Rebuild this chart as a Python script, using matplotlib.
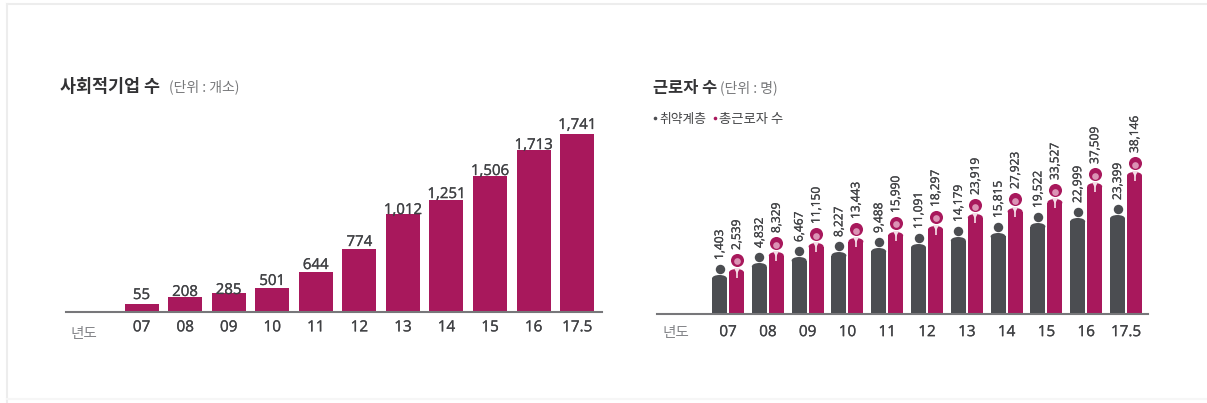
import matplotlib
matplotlib.use("Agg")
import matplotlib.pyplot as plt
import matplotlib.patheffects as pe
from matplotlib.lines import Line2D
from matplotlib.patches import Ellipse

W, H = 1207, 403
KR = "Noto Sans CJK KR"
NUM = "Open Sans"
MAGENTA = "#A8185C"
DARK = "#4B4D51"
TEXT = "#404144"
AXIS = "#77777A"
HEAVY = [pe.withStroke(linewidth=0.2, foreground=TEXT)]

years = ["07", "08", "09", "10", "11", "12", "13", "14", "15", "16", "17.5"]

# Printed labels
enterprise_labels = ["55", "208", "285", "501", "644", "774", "1,012", "1,251", "1,506", "1,713", "1,741"]
vulnerable_labels = ["1,403", "4,832", "6,467", "8,227", "9,488", "11,091", "14,179", "15,815", "19,522", "22,999", "23,399"]
total_labels = ["2,539", "8,329", "11,150", "13,443", "15,990", "18,297", "23,919", "27,923", "33,527", "37,509", "38,146"]

# Bar heights as drawn in the source graphic (it is not to scale with its labels)
enterprise_heights = [78, 147, 186, 235, 391, 616, 958, 1095, 1330, 1584, 1741]
vulnerable_heights = [10480, 13700, 15310, 16650, 17730, 18800, 20680, 21760, 24440, 25790, 26590]
total_heights = [12090, 16650, 19070, 20410, 22030, 23640, 26860, 28470, 30890, 35190, 38146]

fig = plt.figure(figsize=(W / 100, H / 100), dpi=100, facecolor="white")


def fx(x):
    return x / W


def fy(y):
    return 1 - y / H


def make_axes(left, right, top, bottom):
    return fig.add_axes([fx(left), fy(bottom), (right - left) / W, (bottom - top) / H])


def style_axes(ax, x_labels, pad):
    for s in ("top", "left", "right"):
        ax.spines[s].set_visible(False)
    ax.spines["bottom"].set_color(AXIS)
    ax.spines["bottom"].set_linewidth(1.5)
    ax.set_yticks([])
    ax.set_xticks(range(len(x_labels)))
    ax.set_xticklabels(x_labels, family=NUM, fontsize=11, color=TEXT, path_effects=HEAVY)
    ax.tick_params(axis="x", length=0, pad=pad)
    ax.patch.set_alpha(0)


# ---------- left chart ----------
ax1 = make_axes(66, 602, 100, 312)
px1 = 1741 / 178  # data units per pixel
ax1.set_xlim(-1.734, 10.57)
ax1.set_ylim(0, 212 * px1)
style_axes(ax1, years, 6)
ax1.bar(range(len(years)), enterprise_heights, width=0.78, color=MAGENTA)
label_gap_px = [5, 1, -1, 3, 3, 3, 0, 2, 1, 1, 5]
for i, (h, lab) in enumerate(zip(enterprise_heights, enterprise_labels)):
    ax1.text(i, h + label_gap_px[i] * px1, lab, ha="center", va="baseline",
             family=NUM, fontsize=10.8, color=TEXT, path_effects=HEAVY)

# ---------- right chart ----------
ax2 = make_axes(657, 1148, 100, 314)
px2 = 38146 / 142
step = 39.8
ax2.set_xlim((657 - 728) / step, (1148 - 728) / step)
ax2.set_ylim(0, 214 * px2)
style_axes(ax2, years, 8)

off = 8.5 / step
bw = 15 / step
r = 3.5


def person_body(x, h, color):
    ax2.bar(x, h - r * px2, width=bw, color=color, linewidth=0)
    ax2.add_patch(Ellipse((x, h - r * px2), bw, 2 * r * px2, color=color, linewidth=0))


for i, (hd, hm, ld, lm) in enumerate(zip(vulnerable_heights, total_heights, vulnerable_labels, total_labels)):
    xd, xm = i - off, i + off
    # dark figure
    person_body(xd, hd, DARK)
    ax2.plot(xd, hd + 6 * px2, "o", ms=6.8, color=DARK, mew=0)
    ax2.text(xd, hd + 15 * px2, ld, rotation=90, ha="center", va="bottom",
             family=NUM, fontsize=8.6, color=TEXT, path_effects=HEAVY)
    # magenta figure
    person_body(xm, hm, MAGENTA)
    ax2.plot(xm, hm + 9 * px2, "o", ms=9.4, color=MAGENTA, mew=0)
    ax2.plot(xm, hm + 7.5 * px2, "o", ms=4.8, color="#DB93B5", mew=0)
    ax2.vlines(xm, hm - 9 * px2, hm - 1 * px2, color="#EFCFDD", lw=1.3)
    ax2.plot(xm, hm - 2 * px2, "v", ms=4.2, color="#F4DDE7", mew=0)
    ax2.text(xm, hm + 19 * px2, lm, rotation=90, ha="center", va="bottom",
             family=NUM, fontsize=8.6, color=TEXT, path_effects=HEAVY)

# ---------- titles, legend, axis captions ----------
fig.text(fx(60), fy(87), "사회적기업 수", family=KR, fontsize=12.5, weight="bold",
         color="#333335", ha="left", va="center")
fig.text(fx(169), fy(87), "(단위 : 개소)", family=KR, fontsize=10, color="#77787A",
         ha="left", va="center")
fig.text(fx(653), fy(88), "근로자 수", family=KR, fontsize=11.8, weight="bold",
         color="#333335", ha="left", va="center")
fig.text(fx(720), fy(88), "(단위 : 명)", family=KR, fontsize=10, color="#77787A",
         ha="left", va="center")

fig.add_artist(Line2D([fx(655)], [fy(118)], marker="o", ms=2.6, color=DARK, mew=0))
fig.text(fx(659), fy(119), "취약계층", family=KR, fontsize=9.2, color="#454648",
         ha="left", va="center")
fig.add_artist(Line2D([fx(715)], [fy(118)], marker="o", ms=2.6, color=MAGENTA, mew=0))
fig.text(fx(719), fy(119), "총근로자 수", family=KR, fontsize=9.6, color="#454648",
         ha="left", va="center")

fig.text(fx(84), fy(334), "년도", family=KR, fontsize=10.5, color="#85868A", ha="center", va="center")
fig.text(fx(676), fy(333), "년도", family=KR, fontsize=10.5, color="#85868A", ha="center", va="center")

# ---------- faint page frame ----------
frame = "#EDEDED"
fig.add_artist(Line2D([fx(7), fx(1207)], [fy(4), fy(4)], color=frame, lw=1.5))
fig.add_artist(Line2D([fx(7), fx(7)], [fy(4), fy(403)], color=frame, lw=1.5))
fig.add_artist(Line2D([fx(7), fx(1207)], [fy(399), fy(399)], color="#F6F6F6", lw=1.5))

fig.savefig("out.png", dpi=100, facecolor="white")
